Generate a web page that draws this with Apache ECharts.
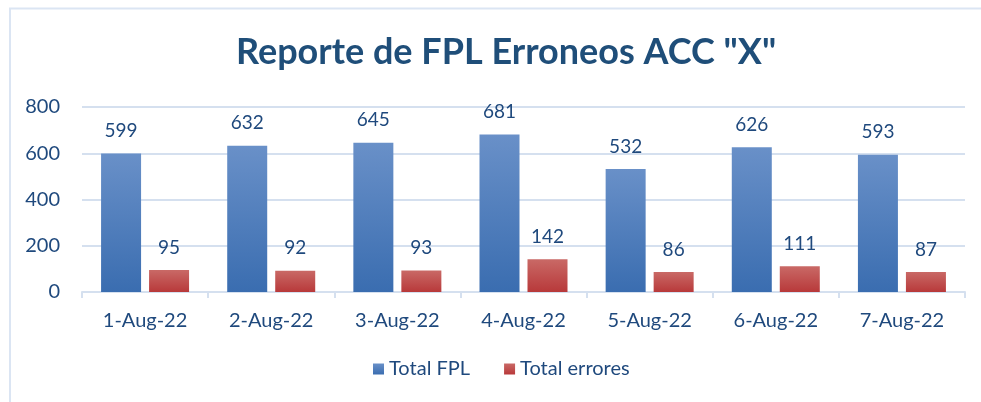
<!DOCTYPE html>
<html><head><meta charset="utf-8">
<script src="https://cdn.jsdelivr.net/npm/echarts@6/dist/echarts.min.js"></script>
<style>html,body{margin:0;padding:0;background:#fff}#c{width:981px;height:402px}</style>
</head><body><div id="c"></div>
<script>
const categories = ["1-Aug-22","2-Aug-22","3-Aug-22","4-Aug-22","5-Aug-22","6-Aug-22","7-Aug-22"];
const totalFPL = [599,632,645,681,532,626,593];
const totalErrores = [95,92,93,142,86,111,87];
const yTicks = [0,200,400,600,800];

const txt = '#1F497D';
const font = 'Lato, "Open Sans", sans-serif';
const blue = new echarts.graphic.LinearGradient(0,0,0,1,[{offset:0,color:'#6990c8'},{offset:1,color:'#3a6db0'}]);
const red = new echarts.graphic.LinearGradient(0,0,0,1,[{offset:0,color:'#c96966'},{offset:1,color:'#b8393a'}]);
const chart = echarts.init(document.getElementById('c'));
chart.setOption({
  animation:false,
  title:{text:'Reporte de FPL Erroneos ACC "X"',left:231,top:29,
    textStyle:{fontFamily:font,fontSize:36,fontWeight:'bold',color:'#1F4E79'}},
  graphic:[{type:'polyline',shape:{points:[[10,402],[10,8.5],[981,8.5]]},style:{stroke:'#dbe5f3',lineWidth:2,fill:null}}],
  legend:{bottom:18,left:368,itemWidth:11,itemHeight:11,itemGap:34,icon:'rect',
    textStyle:{fontFamily:font,fontSize:20,color:txt},
    data:['Total FPL','Total errores']},
  grid:{left:82,right:16,top:107,bottom:110},
  xAxis:{type:'category',data:categories,
    axisLine:{lineStyle:{color:'#d5e0ef',width:2}},
    axisTick:{show:true,length:6,lineStyle:{color:'#d5e0ef',width:2}},
    axisLabel:{fontFamily:font,fontSize:20,color:txt,margin:19}},
  yAxis:{type:'value',min:yTicks[0],max:yTicks[yTicks.length-1],interval:200,
    axisLine:{show:false},axisTick:{show:false},
    splitLine:{lineStyle:{color:'#d5e0ef',width:2}},
    axisLabel:{fontFamily:font,fontSize:20,color:txt,margin:22}},
  series:[
    {name:'Total FPL',type:'bar',data:totalFPL,barWidth:40,barGap:'20%',
     itemStyle:{color:blue},
     label:{show:true,position:'top',distance:13,fontFamily:font,fontSize:19,color:txt}},
    {name:'Total errores',type:'bar',data:totalErrores,barWidth:40,
     itemStyle:{color:red},
     label:{show:true,position:'top',distance:13,fontFamily:font,fontSize:19,color:txt}}
  ]
});
</script></body></html>
